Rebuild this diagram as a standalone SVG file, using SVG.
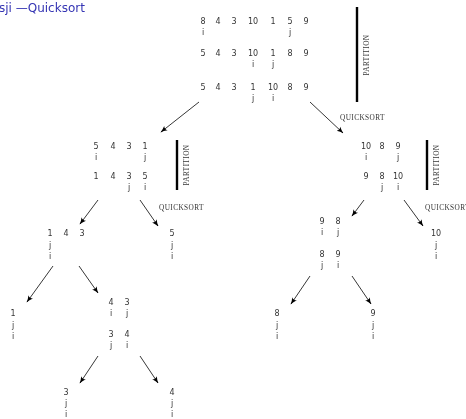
<svg xmlns="http://www.w3.org/2000/svg" width="466" height="419" viewBox="0 0 466 419">
<style>
.n{font-family:"DejaVu Sans",sans-serif;font-size:8px;fill:#333;text-anchor:middle}
.t{font-family:"DejaVu Sans",sans-serif;font-size:12px;fill:#3333b3}
.s{font-family:"Liberation Serif",serif;font-size:7.3px;fill:#333;letter-spacing:0.4px}
.bar{stroke:#000;stroke-width:2.4}
.c line{stroke:#000;stroke-width:0.8;marker-end:url(#a)}
</style>
<defs>
<marker id="a" viewBox="0 0 10 10" refX="9" refY="5" markerWidth="7" markerHeight="7" markerUnits="userSpaceOnUse" orient="auto">
<path d="M0,1 Q5,4 10,5 Q5,6 0,9 Q3,5 0,1 Z" fill="#000"/>
</marker>
</defs>
<rect width="466" height="419" fill="#fff"/>
<g opacity="0.995">
<text class="t" x="-1" y="12">sji —Quicksort</text>

<g id="top">
<text class="n" y="24"><tspan x="203">8</tspan><tspan x="218">4</tspan><tspan x="234">3</tspan><tspan x="253">10</tspan><tspan x="273">1</tspan><tspan x="290">5</tspan><tspan x="306">9</tspan></text>
<text class="n" y="35"><tspan x="203">i</tspan><tspan x="290">j</tspan></text>
<text class="n" y="56"><tspan x="203">5</tspan><tspan x="218">4</tspan><tspan x="234">3</tspan><tspan x="253">10</tspan><tspan x="273">1</tspan><tspan x="290">8</tspan><tspan x="306">9</tspan></text>
<text class="n" y="67"><tspan x="253">i</tspan><tspan x="273">j</tspan></text>
<text class="n" y="90"><tspan x="203">5</tspan><tspan x="218">4</tspan><tspan x="234">3</tspan><tspan x="253">1</tspan><tspan x="273">10</tspan><tspan x="290">8</tspan><tspan x="306">9</tspan></text>
<text class="n" y="101"><tspan x="253">j</tspan><tspan x="273">i</tspan></text>
<line class="bar" x1="357" y1="7" x2="357" y2="102"/>
<text class="s" transform="translate(369,55) rotate(-90)" text-anchor="middle">PARTITION</text>
<text class="s" x="340" y="120">QUICKSORT</text>
</g>

<g id="left2">
<text class="n" y="149"><tspan x="96">5</tspan><tspan x="113">4</tspan><tspan x="129">3</tspan><tspan x="145">1</tspan></text>
<text class="n" y="160"><tspan x="96">i</tspan><tspan x="145">j</tspan></text>
<text class="n" y="179"><tspan x="96">1</tspan><tspan x="113">4</tspan><tspan x="129">3</tspan><tspan x="145">5</tspan></text>
<text class="n" y="190"><tspan x="129">j</tspan><tspan x="145">i</tspan></text>
<line class="bar" x1="177" y1="140" x2="177" y2="190"/>
<text class="s" transform="translate(189,165) rotate(-90)" text-anchor="middle">PARTITION</text>
<text class="s" x="159" y="210">QUICKSORT</text>
</g>

<g id="right2">
<text class="n" y="149"><tspan x="366">10</tspan><tspan x="382">8</tspan><tspan x="398">9</tspan></text>
<text class="n" y="160"><tspan x="366">i</tspan><tspan x="398">j</tspan></text>
<text class="n" y="179"><tspan x="366">9</tspan><tspan x="382">8</tspan><tspan x="398">10</tspan></text>
<text class="n" y="190"><tspan x="382">j</tspan><tspan x="398">i</tspan></text>
<line class="bar" x1="427" y1="140" x2="427" y2="190"/>
<text class="s" transform="translate(439,165) rotate(-90)" text-anchor="middle">PARTITION</text>
<text class="s" x="425" y="210">QUICKSORT</text>
</g>

<g id="n143">
<text class="n" y="236"><tspan x="50">1</tspan><tspan x="66">4</tspan><tspan x="82">3</tspan></text>
<text class="n" x="50" y="248">j</text>
<text class="n" x="50" y="259">i</text>
</g>
<g id="n5">
<text class="n" x="172" y="236">5</text>
<text class="n" x="172" y="248">j</text>
<text class="n" x="172" y="259">i</text>
</g>
<g id="n98">
<text class="n" y="224"><tspan x="322">9</tspan><tspan x="338">8</tspan></text>
<text class="n" y="235"><tspan x="322">i</tspan><tspan x="338">j</tspan></text>
<text class="n" y="257"><tspan x="322">8</tspan><tspan x="338">9</tspan></text>
<text class="n" y="268"><tspan x="322">j</tspan><tspan x="338">i</tspan></text>
</g>
<g id="n10">
<text class="n" x="436" y="236">10</text>
<text class="n" x="436" y="248">j</text>
<text class="n" x="436" y="259">i</text>
</g>
<g id="n1">
<text class="n" x="13" y="316">1</text>
<text class="n" x="13" y="328">j</text>
<text class="n" x="13" y="339">i</text>
</g>
<g id="n43">
<text class="n" y="305"><tspan x="111">4</tspan><tspan x="127">3</tspan></text>
<text class="n" y="316"><tspan x="111">i</tspan><tspan x="127">j</tspan></text>
<text class="n" y="337"><tspan x="111">3</tspan><tspan x="127">4</tspan></text>
<text class="n" y="348"><tspan x="111">j</tspan><tspan x="127">i</tspan></text>
</g>
<g id="n8">
<text class="n" x="277" y="316">8</text>
<text class="n" x="277" y="328">j</text>
<text class="n" x="277" y="339">i</text>
</g>
<g id="n9">
<text class="n" x="373" y="316">9</text>
<text class="n" x="373" y="328">j</text>
<text class="n" x="373" y="339">i</text>
</g>
<g id="n3">
<text class="n" x="66" y="395">3</text>
<text class="n" x="66" y="406">j</text>
<text class="n" x="66" y="417">i</text>
</g>
<g id="n4">
<text class="n" x="172" y="395">4</text>
<text class="n" x="172" y="406">j</text>
<text class="n" x="172" y="417">i</text>
</g>

<g id="connectors" class="c">
<line x1="199" y1="102" x2="161" y2="132"/>
<line x1="310" y1="102" x2="343" y2="133"/>
<line x1="98" y1="200" x2="80" y2="224"/>
<line x1="140" y1="200" x2="158" y2="226"/>
<line x1="364" y1="200" x2="352" y2="216"/>
<line x1="404" y1="200" x2="423" y2="226"/>
<line x1="53" y1="266" x2="27" y2="302"/>
<line x1="79" y1="266" x2="98" y2="293"/>
<line x1="310" y1="276" x2="291" y2="304"/>
<line x1="352" y1="276" x2="371" y2="304"/>
<line x1="98" y1="356" x2="80" y2="383"/>
<line x1="140" y1="356" x2="158" y2="383"/>
</g>
</g>
</svg>
